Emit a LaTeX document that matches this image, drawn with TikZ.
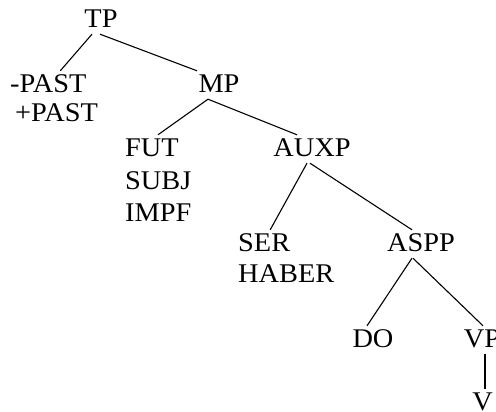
\documentclass[tikz,border=0pt]{standalone}
\usepackage{fontspec}
\setmainfont[FakeStretch=1.05]{Liberation Serif}
\begin{document}
\begin{tikzpicture}[x=1pt,y=1pt,
  lbl/.style={font=\fontsize{27}{30}\selectfont, inner xsep=0pt, inner ysep=4pt,
              text height=18pt, text depth=2pt},
  cl/.style={lbl, anchor=base},
  ll/.style={lbl, anchor=base west},
  edge/.style={line width=1.1pt, black}]
\useasboundingbox (0,0) rectangle (496,412);
\clip (0,0) rectangle (496,412);
\node[cl] (TP) at (101,384) {TP};
\node[ll] (past1) at (10,319) {-PAST};
\node[ll] (past2) at (15,290) {+PAST};
\node[cl] (MP) at (219,319) {MP};
\node[ll] (fut) at (125,255) {FUT};
\node[ll] (subj) at (125,222) {SUBJ};
\node[ll] (impf) at (125,190) {IMPF};
\node[cl] (AUXP) at (312,255) {AUXP};
\node[ll] (ser) at (238,160) {SER};
\node[ll] (haber) at (238,129) {HABER};
\node[cl] (ASPP) at (421,160) {ASPP};
\node[cl] (DO) at (373,64) {DO};
\node[cl] (VP) at (482,64) {VP};
\node[cl] (V) at (482.5,1) {V};
\draw[edge] ([xshift=-9pt]TP.south) -- ([xshift=12pt]past1.north);
\draw[edge] ([xshift=-1pt]TP.south) -- ([xshift=-22pt]MP.north);
\draw[edge] ([xshift=-11pt]MP.south) -- ([xshift=6pt]fut.north);
\draw[edge] ([xshift=-11pt]MP.south) -- ([xshift=-15pt]AUXP.north);
\draw[edge] ([xshift=-5pt]AUXP.south) -- ([xshift=6pt]ser.north);
\draw[edge] ([xshift=-2pt]AUXP.south) -- ([xshift=-9pt]ASPP.north);
\draw[edge] ([xshift=-9pt]ASPP.south) -- ([xshift=-6pt]DO.north);
\draw[edge] ([xshift=-8pt]ASPP.south) -- ([xshift=1pt]VP.north);
\draw[edge] ([xshift=3pt]VP.south) -- ([xshift=3pt]VP.south |- V.north);
\end{tikzpicture}
\end{document}
